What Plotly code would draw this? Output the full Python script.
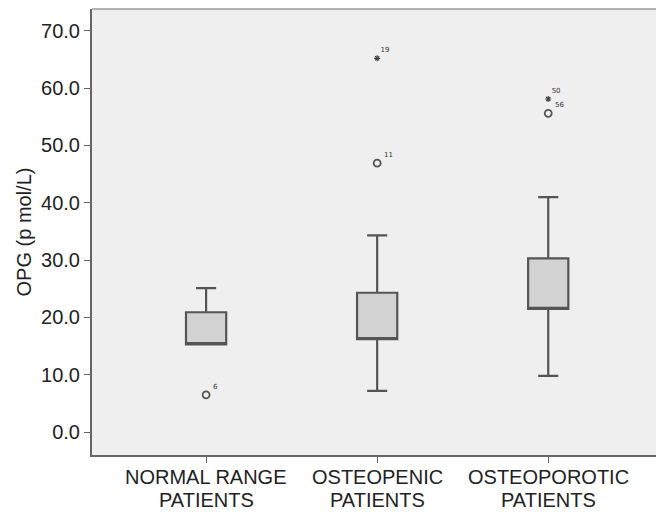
import plotly.graph_objects as go

cat_line1 = ["NORMAL RANGE", "OSTEOPENIC", "OSTEOPOROTIC"]
cat_line2 = ["PATIENTS", "PATIENTS", "PATIENTS"]
lower_whisker = [15.3, 7.2, 9.8]
q1_vals = [15.3, 16.2, 21.5]
median_vals = [15.5, 16.3, 21.6]
q3_vals = [20.9, 24.3, 30.3]
upper_whisker = [25.1, 34.3, 41.0]

# outliers (circles) and extremes (stars)
outlier_cat = [0, 1, 2]
outlier_val = [6.5, 46.9, 55.6]
outlier_lbl = ["6", "11", "56"]
extreme_cat = [1, 2]
extreme_val = [65.2, 58.1]
extreme_lbl = ["19", "50"]

y_ticks = [0, 10, 20, 30, 40, 50, 60, 70]
x_pos = [0, 1, 2]

fig = go.Figure()
fig.add_trace(go.Box(
    x=x_pos,
    q1=q1_vals, median=median_vals, q3=q3_vals,
    lowerfence=lower_whisker, upperfence=upper_whisker,
    fillcolor="#d2d2d2",
    line=dict(color="#555555", width=2.2),
    width=0.235, whiskerwidth=0.5,
    boxpoints=False, showlegend=False, hoverinfo="skip",
))
fig.add_trace(go.Scatter(
    x=outlier_cat, y=outlier_val, mode="markers",
    marker=dict(symbol="circle-open", size=7, color="#555555", line=dict(width=1.8)),
    showlegend=False,
))
fig.add_trace(go.Scatter(
    x=extreme_cat, y=extreme_val, mode="markers",
    marker=dict(symbol="asterisk-open", size=5, color="#444444", line=dict(width=1.2, color="#444444")),
    showlegend=False,
))
fig.add_trace(go.Scatter(
    x=[c + 0.04 for c in outlier_cat], y=[v + 1.4 for v in outlier_val],
    mode="text", text=outlier_lbl, textposition="middle right",
    textfont=dict(size=7, color="#333333", family="DejaVu Sans"),
    showlegend=False,
))
fig.add_trace(go.Scatter(
    x=[c + 0.02 for c in extreme_cat], y=[v + 1.4 for v in extreme_val],
    mode="text", text=extreme_lbl, textposition="middle right",
    textfont=dict(size=7, color="#333333", family="DejaVu Sans"),
    showlegend=False,
))

annotations = []
for xp, l1, l2 in zip(x_pos, cat_line1, cat_line2):
    annotations.append(dict(x=xp, y=0, xref="x", yref="paper", text=l1, showarrow=False,
                            yanchor="middle", yshift=-22,
                            font=dict(size=20, color="#222222")))
    annotations.append(dict(x=xp, y=0, xref="x", yref="paper", text=l2, showarrow=False,
                            yanchor="middle", yshift=-45,
                            font=dict(size=20, color="#222222")))

fig.update_layout(
    width=656, height=512,
    margin=dict(l=92, r=0, t=9, b=57),
    paper_bgcolor="white", plot_bgcolor="#efefef",
    font=dict(family="Liberation Sans, Arial, sans-serif", color="#222222"),
    xaxis=dict(
        range=[-0.667, 2.63], tickmode="array", tickvals=x_pos, showticklabels=False,
        showgrid=False, zeroline=False, showline=True, linecolor="#666666", linewidth=2,
        ticks="outside", ticklen=6, tickcolor="#666666", tickwidth=1, automargin=False,
    ),
    yaxis=dict(
        range=[-4.0, 73.8], tickmode="array", tickvals=y_ticks,
        tickformat=".1f", showgrid=False, zeroline=False,
        showline=True, linecolor="#666666", linewidth=2,
        ticks="outside", ticklen=6, tickcolor="#666666", tickwidth=1,
        tickfont=dict(size=20, color="#222222"), automargin=False,
        title=dict(text="OPG (p mol/L)", font=dict(size=20, color="#222222"), standoff=4),
    ),
    annotations=annotations,
    shapes=[dict(type="line", xref="paper", yref="paper", x0=0, x1=1, y0=1, y1=1,
                 line=dict(color="#9a9a9a", width=1.5))],
)

fig.write_html("out.html")
